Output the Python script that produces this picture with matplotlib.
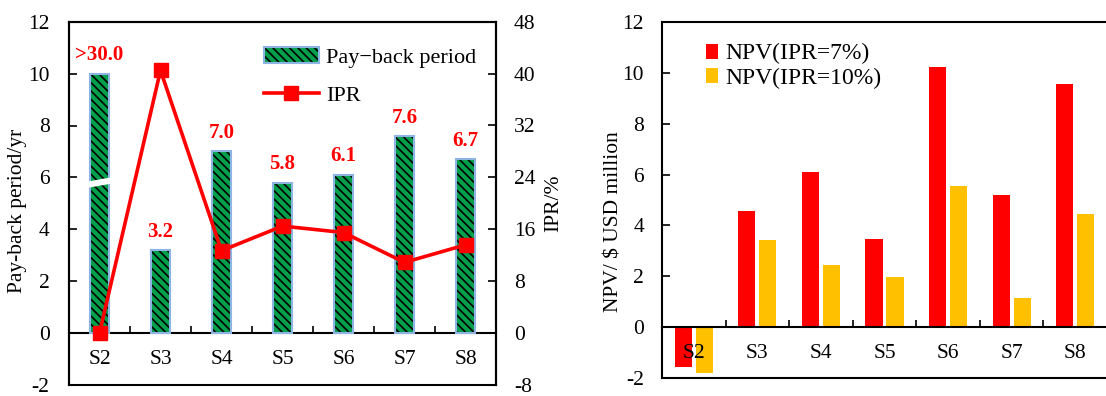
import matplotlib
matplotlib.use("Agg")
import matplotlib.pyplot as plt
import numpy as np
from matplotlib.patches import Patch
from matplotlib.lines import Line2D
from matplotlib.legend_handler import HandlerTuple

plt.rcParams['font.family'] = ['Liberation Serif', 'DejaVu Serif']
plt.rcParams['hatch.linewidth'] = 1.2
plt.rcParams['axes.unicode_minus'] = False

categories = ["S2", "S3", "S4", "S5", "S6", "S7", "S8"]
payback = [10.0, 3.2, 7.0, 5.8, 6.1, 7.6, 6.7]
payback_labels = [">30.0", "3.2", "7.0", "5.8", "6.1", "7.6", "6.7"]
ipr = [0.0, 40.5, 12.7, 16.5, 15.5, 10.9, 13.6]
npv7 = [-1.55, 4.55, 6.1, 3.45, 10.25, 5.2, 9.55]
npv10 = [-1.8, 3.42, 2.45, 1.97, 5.56, 1.13, 4.43]
break_value = 5.8

GREEN = "#00A04A"
EDGE = "#8DB4E2"
RED = "#FF0000"
YEL = "#FFC000"
FS = 15.5

W, H = 1106, 396
fig = plt.figure(figsize=(W / 100, H / 100), dpi=100)

def px_axes(x0, y0, x1, y1):
    return fig.add_axes([x0 / W, 1 - y1 / H, (x1 - x0) / W, (y1 - y0) / H])

x = np.arange(len(categories))

# ---------- left panel ----------
ax = px_axes(69, 21.7, 496, 385)
ax2 = ax.twinx()
ax.set_zorder(ax2.get_zorder() - 1)
ax.patch.set_visible(True)

ax.bar(x, payback, width=0.30, color=GREEN, edgecolor="black", hatch="\\\\\\\\", lw=0, zorder=2)
ax.bar(x, payback, width=0.30, fill=False, edgecolor=EDGE, lw=1.5, zorder=3)
# axis break on the capped bar
ax.plot([x[0] - 0.19, x[0] + 0.19], [break_value - 0.08, break_value + 0.08],
        color="white", lw=4.5, zorder=4, solid_capstyle="butt")
for xi, v, lab in zip(x, payback, payback_labels):
    ax.annotate(lab, (xi, v), xytext=(0, 6), textcoords="offset points",
                ha="center", va="bottom", color=RED, fontsize=15, fontweight="bold")

ax.set_xlim(-0.5, len(categories) - 0.5)
ax.set_ylim(-2, 12)
ax.set_yticks(np.arange(-2, 13, 2))
ax.set_ylabel("Pay-back period/yr", fontsize=FS)
ax.yaxis.set_label_coords(-0.098, 0.48)
ax.spines['bottom'].set_position(('data', 0))
ax.set_xticks(x)
ax.set_xticklabels(categories)
ax.set_xticks(np.arange(0.5, len(categories) - 1, 1), minor=True)
ax.tick_params(axis='x', which='major', length=0, pad=12, labelsize=FS)
ax.tick_params(axis='x', which='minor', direction='in', length=5, width=1.2)
ax.tick_params(axis='y', direction='in', length=6, width=1.2, pad=14, labelsize=FS)

ax2.plot(x, ipr, color=RED, lw=2.6, marker="s", markersize=10, zorder=5, clip_on=False)
ax2.set_ylim(-8, 48)
ax2.set_yticks(np.arange(-8, 49, 8))
ax2.tick_params(axis='y', direction='in', length=6, width=1.2, pad=13, labelsize=FS)
ax2.set_ylabel("IPR/%", fontsize=FS, rotation=90, labelpad=6)
for a in (ax, ax2):
    for s in a.spines.values():
        s.set_linewidth(1.5)

h_bar = (Patch(facecolor=GREEN, edgecolor="black", hatch="\\\\\\\\", lw=0),
         Patch(fill=False, edgecolor=EDGE, lw=1.5))
h_line = Line2D([], [], color=RED, lw=2.6, marker="s", markersize=10)
ax2.legend([h_bar, h_line], ["Pay\u2212back period", "IPR"],
           handler_map={tuple: HandlerTuple(ndivide=1, pad=0)},
           loc="upper right", bbox_to_anchor=(1.0, 0.985), frameon=False,
           fontsize=FS + 0.5, handlelength=2.5, handleheight=0.75, handletextpad=0.3,
           labelspacing=0.75)

# ---------- right panel ----------
bx = px_axes(662, 22, 1107, 378)
off = 0.165
bw = 0.27
bx.bar(x - off, npv7, width=bw, color=RED, label="NPV(IPR=7%)", zorder=1)
bx.bar(x + off, npv10, width=bw, color=YEL, label="NPV(IPR=10%)", zorder=1)
bx.set_xlim(-0.5, len(categories) - 0.5)
bx.set_ylim(-2, 12)
bx.set_yticks(np.arange(-2, 13, 2))
bx.set_ylabel("NPV/ $ USD million", fontsize=FS)
bx.yaxis.set_label_coords(-0.087, 0.44)
bx.spines['bottom'].set_position(('data', 0))
bx.spines['right'].set_visible(False)
for s in bx.spines.values():
    s.set_linewidth(1.5)
bx.plot([0, 1], [0, 0], transform=bx.transAxes, color="black", lw=1.5, clip_on=False)
bx.set_xticks(x)
bx.set_xticklabels(categories)
bx.set_xticks(np.arange(0.5, len(categories) - 1, 1), minor=True)
bx.tick_params(axis='x', which='major', length=0, pad=12, labelsize=FS)
bx.tick_params(axis='x', which='minor', direction='in', length=5, width=1.2)
bx.tick_params(axis='y', direction='in', length=6, width=1.2, pad=13, labelsize=FS)
for t in bx.get_xticklabels():
    t.set_zorder(5)
bx.legend(loc="upper left", bbox_to_anchor=(0.05, 1.0), frameon=False, fontsize=17,
          handlelength=0.55, handleheight=0.6, handletextpad=0.3, labelspacing=0.15)

fig.savefig("out.png", dpi=100)
